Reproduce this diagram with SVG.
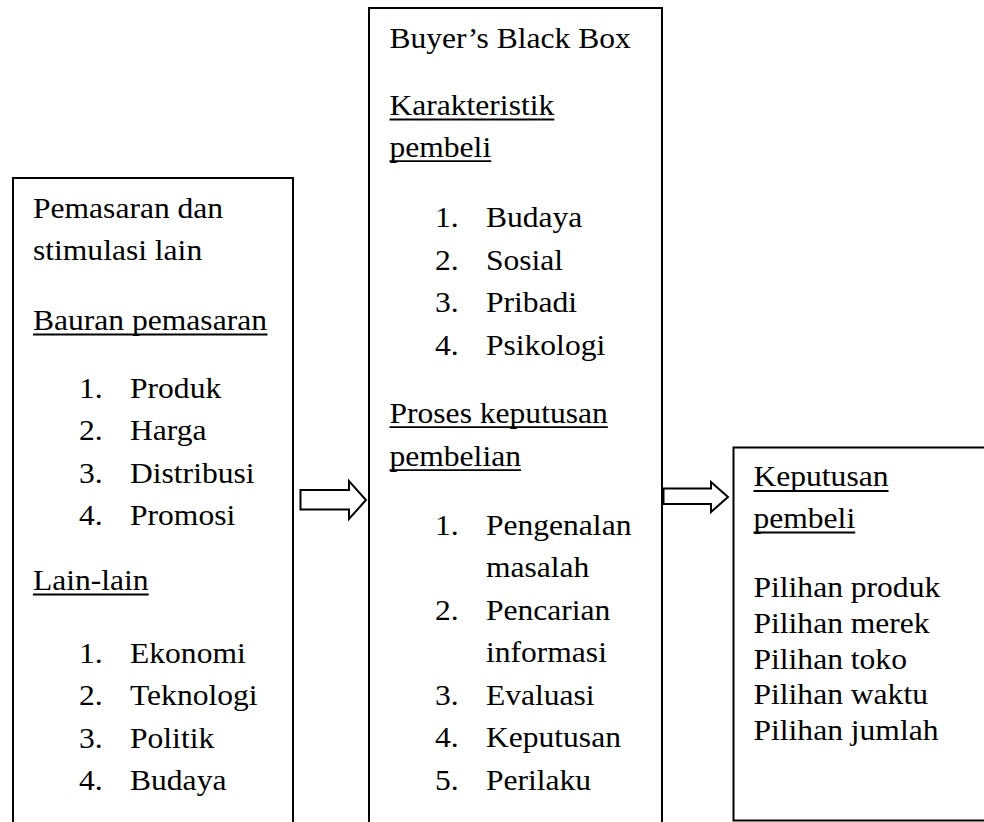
<svg xmlns="http://www.w3.org/2000/svg" width="984" height="822" viewBox="0 0 984 822">
<style>
.box{fill:#fff;stroke:#000;stroke-width:2}
.t{font-family:"Liberation Serif","Times New Roman",serif;font-size:28.7px;fill:#000}
.u{stroke:#000;stroke-width:1.8}
.arr{fill:#fff;stroke:#000;stroke-width:2;stroke-linejoin:miter}
</style>
<rect width="984" height="822" fill="#fff"/>
<g id="node-stimuli">
<rect class="box" x="13" y="178" width="280" height="700"/>
<g transform="scale(1.1 1)" class="t">
<text x="30" y="218.3">Pemasaran dan</text>
<text x="30" y="260">stimulasi lain</text>
<text x="30" y="330">Bauran pemasaran</text>
<text x="71.8" y="397.7">1.</text><text x="118.2" y="397.7">Produk</text>
<text x="71.8" y="440.2">2.</text><text x="118.2" y="440.2">Harga</text>
<text x="71.8" y="482.7">3.</text><text x="118.2" y="482.7">Distribusi</text>
<text x="71.8" y="525.2">4.</text><text x="118.2" y="525.2">Promosi</text>
<text x="30" y="590">Lain-lain</text>
<text x="71.8" y="662.7">1.</text><text x="118.2" y="662.7">Ekonomi</text>
<text x="71.8" y="705.2">2.</text><text x="118.2" y="705.2">Teknologi</text>
<text x="71.8" y="747.7">3.</text><text x="118.2" y="747.7">Politik</text>
<text x="71.8" y="790.2">4.</text><text x="118.2" y="790.2">Budaya</text>
</g>
<line class="u" x1="33" y1="334.5" x2="267.5" y2="334.5"/>
<line class="u" x1="33" y1="594.5" x2="148.7" y2="594.5"/>
</g>
<g id="node-blackbox">
<rect class="box" x="369" y="8" width="293" height="900"/>
<g transform="scale(1.1 1)" class="t">
<text x="354.1" y="48.3">Buyer’s Black Box</text>
<text x="354.1" y="115">Karakteristik</text>
<text x="354.1" y="156.7">pembeli</text>
<text x="395.5" y="227.3">1.</text><text x="441.8" y="227.3">Budaya</text>
<text x="395.5" y="269.8">2.</text><text x="441.8" y="269.8">Sosial</text>
<text x="395.5" y="312.3">3.</text><text x="441.8" y="312.3">Pribadi</text>
<text x="395.5" y="354.8">4.</text><text x="441.8" y="354.8">Psikologi</text>
<text x="354.1" y="422.7">Proses keputusan</text>
<text x="354.1" y="465.7">pembelian</text>
<text x="395.5" y="535">1.</text><text x="441.8" y="535">Pengenalan</text>
<text x="441.8" y="577.5">masalah</text>
<text x="395.5" y="620">2.</text><text x="441.8" y="620">Pencarian</text>
<text x="441.8" y="662.5">informasi</text>
<text x="395.5" y="705">3.</text><text x="441.8" y="705">Evaluasi</text>
<text x="395.5" y="747.5">4.</text><text x="441.8" y="747.5">Keputusan</text>
<text x="395.5" y="790">5.</text><text x="441.8" y="790">Perilaku</text>
</g>
<line class="u" x1="389.5" y1="119.5" x2="554.3" y2="119.5"/>
<line class="u" x1="389.5" y1="161.2" x2="491.2" y2="161.2"/>
<line class="u" x1="389.5" y1="427.2" x2="607.8" y2="427.2"/>
<line class="u" x1="389.5" y1="470.2" x2="521" y2="470.2"/>
</g>
<g id="node-decision">
<rect class="box" x="733.5" y="447.5" width="300" height="373"/>
<g transform="scale(1.1 1)" class="t">
<text x="685" y="486.5">Keputusan</text>
<text x="685" y="528">pembeli</text>
<text x="685" y="597.3">Pilihan produk</text>
<text x="685" y="633">Pilihan merek</text>
<text x="685" y="668.7">Pilihan toko</text>
<text x="685" y="704.4">Pilihan waktu</text>
<text x="685" y="740">Pilihan jumlah</text>
</g>
<line class="u" x1="753.5" y1="491" x2="888.5" y2="491"/>
<line class="u" x1="753.5" y1="532.5" x2="855.2" y2="532.5"/>
</g>
<g id="connectors">
<polygon class="arr" points="300.5,490 349,490 349,481 366,500 349,519 349,509.5 300.5,509.5"/>
<polygon class="arr" points="663.5,488.5 711,488.5 711,482 728,497 711,512 711,504 663.5,504"/>
</g>
</svg>
